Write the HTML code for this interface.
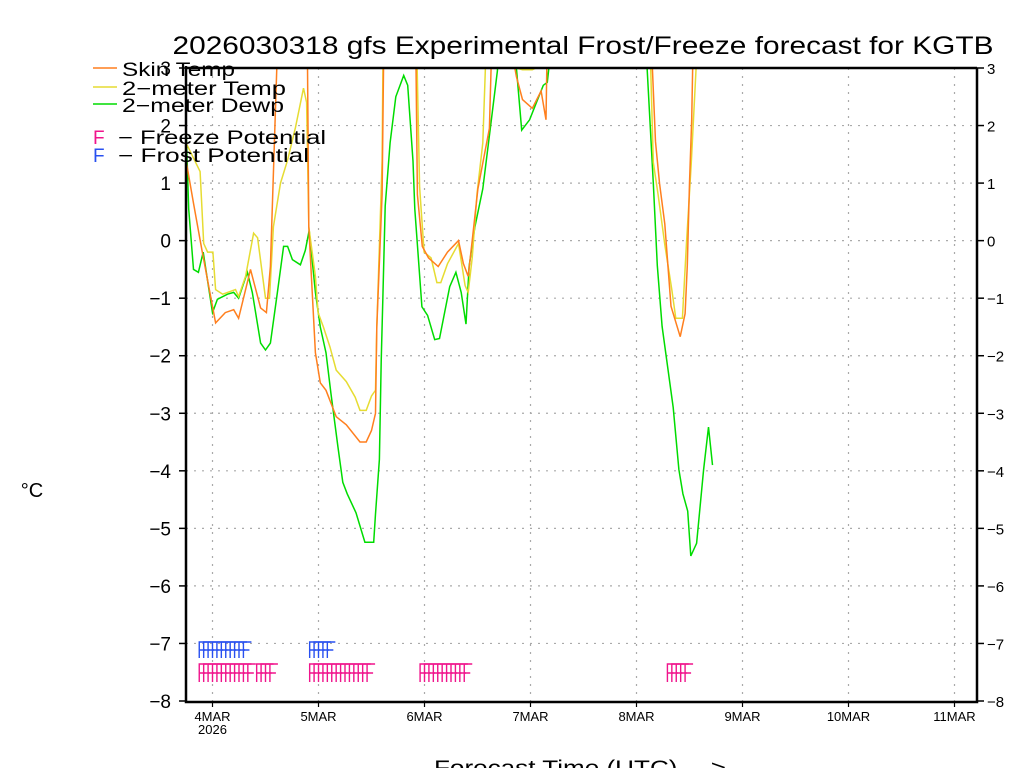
<!DOCTYPE html>
<html><head><meta charset="utf-8"><style>
html,body{margin:0;padding:0;background:#fff;width:1024px;height:768px;overflow:hidden}
svg{display:block;font-family:"Liberation Sans",sans-serif}
</style></head><body>
<svg id="chart" width="1024" height="768" viewBox="0 0 1024 768" xmlns="http://www.w3.org/2000/svg">
<rect x="0" y="0" width="1024" height="768" fill="#fff"/>
<text x="583" y="54" text-anchor="middle" font-size="25" textLength="821" lengthAdjust="spacingAndGlyphs">2026030318 gfs Experimental Frost/Freeze forecast for KGTB</text>
<defs><clipPath id="plotclip"><rect x="186" y="68" width="791" height="633"/></clipPath></defs>
<g id="grid"></g>
<g id="series" clip-path="url(#plotclip)"></g>
<g id="flags"></g>
<g id="axes"></g>
<g id="legend">
<line x1="93" y1="68" x2="117" y2="68" stroke="#ff7f1e" stroke-width="1.5"/>
<text x="122" y="76" font-size="19" textLength="113" lengthAdjust="spacingAndGlyphs">Skin Temp</text>
<line x1="93" y1="87" x2="117" y2="87" stroke="#e6dc32" stroke-width="1.5"/>
<text x="122" y="95" font-size="19" textLength="164" lengthAdjust="spacingAndGlyphs">2−meter Temp</text>
<line x1="93" y1="104" x2="117" y2="104" stroke="#00dc00" stroke-width="1.5"/>
<text x="122" y="112" font-size="19" textLength="162" lengthAdjust="spacingAndGlyphs">2−meter Dewp</text>
<text x="93" y="144" font-size="19" fill="#f0148c">F</text>
<text x="118" y="144" font-size="19" textLength="208" lengthAdjust="spacingAndGlyphs">− Freeze Potential</text>
<text x="93" y="162" font-size="19" fill="#2850f0">F</text>
<text x="118" y="162" font-size="19" textLength="191" lengthAdjust="spacingAndGlyphs">− Frost Potential</text>
</g>
<text x="32" y="497" text-anchor="middle" font-size="20">°C</text>
<text x="580" y="775" text-anchor="middle" font-size="21" textLength="292" lengthAdjust="spacingAndGlyphs">Forecast Time (UTC) ---&gt;</text>
</svg>
<script>
// hours since 2026-03-03 18Z
const skinHours=[0,1.7,3.7,6.7,8.9,10.8,11.9,14.6,16.9,18.2,19.1,21.4,27.3,27.8,29.3,30.4,31.7,34,36.3,39.4,40.8,42,42.9,43.2,44.4,45,51.8,52.4,53.5,54.9,57.1,59.2,61.7,62.8,63.9,64.8,66.1,68.7,69.8,74.8,76.2,78.4,80.4,81.5,82.1,104.5,106.3,107.2,108.4,109.1,109.8,111.9,113,113.5,114,114.5,115.2];
const skinVals=[1.4,0.65,-0.2,-1.43,-1.25,-1.2,-1.35,-0.5,-1.17,-1.25,-0.45,5,5,0.24,-1.95,-2.47,-2.6,-3.06,-3.2,-3.5,-3.5,-3.3,-3.0,-1.5,0.8,5,5,0.8,-0.1,-0.3,-0.45,-0.2,0,-0.4,-0.62,0,0.9,1.95,5,2.85,2.45,2.3,2.6,2.1,5,5,1.72,1.0,0.29,-0.43,-1.14,-1.67,-1.27,-0.43,1.0,2.1,5];
const t2mHours=[0,3.2,4,4.9,6.1,6.7,8.3,11.2,11.9,13.5,15.3,16.2,18,18.9,19.8,21.4,23,24.8,26.6,27.3,27.8,29.3,29.9,31.1,32.6,34,36.3,38.3,39.4,40.8,42,42.9,43.2,44.4,44.8,51.8,52.9,53.9,55.5,56.8,57.7,59.2,61.7,63.2,63.9,64.8,65.9,67.2,68.7,74.8,76.2,78.4,80.6,81.5,104.5,105.8,106.9,108.4,110,110.9,112.4,113.3,114.4,115.5,116.9];
const t2mVals=[1.7,1.2,-0.05,-0.2,-0.2,-0.85,-0.93,-0.85,-0.97,-0.62,0.13,0.05,-1.0,-1.0,0.24,1.0,1.4,1.97,2.65,2.4,0.24,-0.62,-1.25,-1.5,-1.85,-2.25,-2.45,-2.72,-2.95,-2.95,-2.7,-2.6,-1.5,1.38,5,5,0.93,-0.2,-0.3,-0.73,-0.73,-0.4,-0.05,-0.78,-0.9,-0.3,0.83,1.7,5,3.0,2.97,2.97,3.05,5,5,1.36,0.8,-0.07,-0.85,-1.35,-1.35,-0.07,1.36,3,5];
const dewHours=[0,0.6,1.7,2.8,3.9,6,7.1,9.4,10.8,11.9,13.9,15,16.9,18,19.1,20.7,22.1,23,24.1,25.9,27,27.9,29.3,30.4,31.7,32.8,34.4,35.5,36.5,38.5,40.5,42.5,42.9,43.8,44.2,44.6,45.1,46.2,47.5,49.3,50.2,51.4,51.8,53.4,54.7,56.3,57.4,59.7,61.1,62.3,63.4,64.1,65.4,67.2,68.9,70.5,72,74.8,76,77.8,79.5,80.9,81.8,82.3,104.4,105.8,106.7,107.8,110.3,111.6,112.5,113.6,114.3,115.6,117.2,118.3,119.2];
const dewVals=[2.0,0.55,-0.5,-0.55,-0.2,-1.25,-1.02,-0.93,-0.9,-1.0,-0.55,-0.9,-1.78,-1.9,-1.78,-0.9,-0.1,-0.1,-0.33,-0.42,-0.17,0.18,-0.9,-1.5,-1.95,-2.65,-3.58,-4.2,-4.4,-4.73,-5.24,-5.24,-4.75,-3.8,-2.1,-0.9,0.6,1.7,2.5,2.87,2.7,1.38,0.55,-1.15,-1.3,-1.72,-1.7,-0.8,-0.55,-0.9,-1.45,-0.45,0.24,0.9,1.95,2.95,5,3.0,1.92,2.1,2.43,2.7,2.75,3.1,3.0,1.0,-0.43,-1.49,-2.9,-3.98,-4.4,-4.7,-5.48,-5.26,-3.98,-3.24,-3.9];
const freezeHours=[3,4,5,6,7,8,9,10,11,12,13,14,16,17,18,19,28,29,30,31,32,33,34,35,36,37,38,39,40,41,53,54,55,56,57,58,59,60,61,62,63,109,110,111,112,113];
const frostHours=[3,4,5,6,7,8,9,10,11,12,13,28,29,30,31,32];
const yTicks=[3,2,1,0,-1,-2,-3,-4,-5,-6,-7,-8];
const dayLabels=["4MAR","5MAR","6MAR","7MAR","8MAR","9MAR","10MAR","11MAR"];
const dayHours=[6,30,54,78,102,126,150,174];

const NS="http://www.w3.org/2000/svg";
const X0=186, PXH=106/24, YT=68, YB=701, VMAX=3, VMIN=-8;
function xs(h){return X0+h*PXH;}
function ys(v){return YT+(VMAX-v)*(YB-YT)/(VMAX-VMIN);}
function mk(tag,attrs,parent){const e=document.createElementNS(NS,tag);for(const k in attrs)e.setAttribute(k,attrs[k]);parent.appendChild(e);return e;}
const grid=document.getElementById('grid'),axes=document.getElementById('axes'),series=document.getElementById('series'),flags=document.getElementById('flags');

yTicks.forEach(v=>{
  const y=ys(v);
  if(v>VMIN&&v<VMAX){const g=mk('line',{x1:186,x2:977,y1:y,y2:y,stroke:'#aaa','stroke-width':1.2,'stroke-dasharray':'2,6'},grid);
  
  }
  const t1=mk('line',{x1:179,x2:186,y1:y,y2:y,stroke:'#000','stroke-width':1.5},axes);
  
  
  const t2=mk('line',{x1:977,x2:984,y1:y,y2:y,stroke:'#000','stroke-width':1.5},axes);
  
  
  const lab=(v<0?'−':'')+Math.abs(v);
  const l=mk('text',{x:171,y:y+7,'text-anchor':'end','font-size':19},axes);l.textContent=lab;
  
  
  const r=mk('text',{x:987,y:y+6,'font-size':15},axes);r.textContent=lab;
  
  
});
dayHours.forEach((h,i)=>{
  const x=xs(h);
  const g=mk('line',{x1:x,x2:x,y1:68,y2:701,stroke:'#aaa','stroke-width':1.2,'stroke-dasharray':'2,6'},grid);
  
  
  const t=mk('line',{x1:x,x2:x,y1:701,y2:707,stroke:'#000','stroke-width':1.2},axes);
  
  
  const l=mk('text',{x:x,y:721,'text-anchor':'middle','font-size':13},axes);l.textContent=dayLabels[i];
  
  
});
const yr=mk('text',{x:xs(dayHours[0]),y:734,'text-anchor':'middle','font-size':13},axes);yr.textContent='2026';


const frame=mk('path',{d:'M186,68 L977,68 M186,66 L186,702 L977,702 L977,68',stroke:'#000','stroke-width':2.5,fill:'none'},axes);



function line(hs,vs,color,name){
  const d=hs.map((h,i)=>(i?'L':'M')+xs(h).toFixed(1)+','+ys(vs[i]).toFixed(1)).join(' ');
  const p=mk('path',{d:d,stroke:color,'stroke-width':1.5,fill:'none','stroke-linejoin':'miter'},series);
  
  
}
line(dewHours,dewVals,'#00dc00','dewpoint-line');
line(t2mHours,t2mVals,'#e6dc32','2m-temp-line');
line(skinHours,skinVals,'#ff7f1e','skin-temp-line');

function drawF(h,top,bot,color,name){
  const x=xs(h),mid=(top+bot)/2;
  const p=mk('path',{d:`M${x},${bot} L${x},${top} L${x+8},${top} M${x},${mid} L${x+6},${mid}`,stroke:color,'stroke-width':1.4,fill:'none'},flags);
  
  
}
frostHours.forEach(h=>drawF(h,642,658,'#2850f0','frost-flag'));
freezeHours.forEach(h=>drawF(h,664,682,'#f0148c','freeze-flag'));
</script>
</body></html>
